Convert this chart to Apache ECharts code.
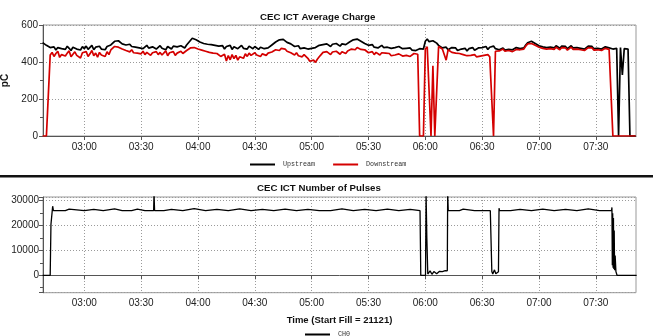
<!DOCTYPE html>
<html><head><meta charset="utf-8">
<script src="https://cdn.jsdelivr.net/npm/echarts@6/dist/echarts.min.js"></script>
<style>html,body{margin:0;padding:0;background:#fff}#c{width:653px;height:336px}</style>
</head><body><div id="c"></div>
<script>
// one sample per minute, first sample at 02:38 (minutes after midnight)
const sampleStartMin = 158;
const upstream = [
505, 497,
490, 484, 478, 470, 482, 465, 478, 488, 472, 480,
468, 485, 474, 462, 480, 490, 470, 476, 465, 483,
472, 486, 468, 478, 490, 466, 480, 474, 485, 470,
478, 466, 484, 475, 492, 500, 512, 522, 515, 506,
498, 505, 492, 488, 496, 484, 490, 480, 488, 476,
484, 472, 480, 490, 475, 468, 482, 486, 470, 478,
488, 474, 480, 466, 484, 478, 470, 486, 476, 482,
472, 488, 480, 476, 492, 500, 516, 528, 532, 520,
515, 508, 512, 500, 505, 496, 502, 494, 500, 490,
496, 486, 480, 488, 470, 484, 476, 490, 468, 482,
486, 472, 480, 490, 474, 482, 470, 486, 478, 472,
484, 476, 468, 480, 488, 472, 480, 476, 486, 492,
498, 508, 516, 520, 512, 522, 515, 506, 510, 498,
492, 484, 478, 488, 472, 482, 476, 486, 470, 480,
474, 466, 478, 484, 490, 482, 494, 486, 498, 490,
484, 496, 488, 500, 492, 486, 498, 490, 494, 502,
508, 514, 520, 510, 524, 516, 512, 506, 500, 496,
490, 484, 494, 480, 488, 476, 486, 490, 478, 484,
480, 486, 474, 482, 478, 470, 484, 476, 472, 480,
474, 468, 476, 464, 470, 462, 468, 472, 466, 470,
512, 524, 510, 506, 515, 508, 502, 490, 482, 476,
470, 480, 466, 474, 478, 468, 476, 462, 472, 470,
466, 474, 460, 472, 468, 478, 464, 470, 476, 466,
478, 470, 484, 468, 480, 474, 486, 472, 478, 466,
470, 476, 464, 472, 468, 474, 466, 470, 478, 468,
472, 466, 476, 492, 504, 508, 512, 506, 500, 494,
488, 494, 482, 490, 478, 486, 480, 484, 476, 488,
482, 474, 486, 478, 484, 472, 480, 488, 476, 482,
478, 486, 474, 482, 470, 480, 486, 476, 484, 472,
480, 474, 484, 470, 478, 482, 472, 476, 480, 470,
476, 474, 0, 478, 330, 472, 476, 470, 0, 0,
0, 0
];
const downstream = [
0, 0,
0, 0, 438, 452, 430, 446, 458, 425, 440, 450,
432, 448, 460, 428, 442, 455, 436, 446, 422, 450,
440, 456, 430, 444, 462, 434, 448, 426, 452, 438,
446, 430, 455, 440, 465, 474, 484, 492, 480, 476,
470, 478, 462, 468, 455, 466, 450, 460, 448, 456,
444, 458, 440, 452, 462, 436, 450, 444, 456, 440,
452, 438, 448, 460, 434, 450, 442, 456, 436, 448,
444, 458, 446, 452, 462, 468, 476, 482, 478, 472,
470, 476, 464, 468, 458, 464, 452, 460, 448, 456,
446, 440, 430, 420, 442, 405, 435, 412, 440, 418,
436, 410, 428, 438, 420, 444, 430, 448, 436, 442,
450, 438, 446, 430, 444, 452, 436, 448, 440, 454,
458, 466, 470, 462, 474, 466, 470, 458, 462, 450,
446, 438, 450, 434, 444, 428, 440, 430, 420, 404,
395, 410, 398, 415, 428, 440, 452, 444, 456, 448,
440, 454, 446, 458, 448, 442, 456, 450, 446, 460,
464, 470, 476, 466, 478, 470, 468, 460, 466, 456,
450, 444, 456, 440, 452, 446, 438, 450, 442, 448,
440, 446, 434, 442, 438, 430, 444, 436, 432, 442,
436, 444, 430, 440, 446, 438, 442, 0, 0, 0,
470, 482, 474, 0, 380, 0, 0, 484, 476, 470,
462, 410, 466, 458, 452, 460, 448, 454, 446, 450,
440, 446, 434, 442, 436, 430, 440, 428, 436, 432,
426, 436, 430, 440, 428, 434, 0, 458, 466, 460,
464, 470, 458, 466, 462, 470, 456, 464, 468, 460,
466, 460, 470, 486, 498, 504, 500, 496, 490, 484,
480, 486, 474, 482, 470, 478, 472, 476, 468, 480,
474, 466, 478, 470, 476, 464, 472, 480, 468, 474,
470, 478, 466, 474, 462, 472, 478, 468, 476, 464,
472, 466, 476, 462, 470, 474, 464, 468, 466, 0,
0, 0, 0, 0, 0, 0, 0, 0, 0, 0,
0, 0
];
// pulse counter samples: time (minutes after midnight) and value
const pulseMin = [158, 162, 162.4, 163, 163.3, 163.7, 170, 172, 172.3, 180, 185, 185.3, 190, 196, 196.3, 200, 205, 208, 208.3, 212, 216.6, 216.8, 217.1, 222, 226, 226.3, 232, 238, 238.3, 244, 250, 250.3, 256, 262, 262.3, 268, 274, 274.3, 280, 286, 286.3, 292, 298, 298.3, 304, 310, 316, 316.3, 322, 328, 328.3, 334, 340, 340.3, 346, 352, 352.3, 357.2, 357.6, 360.1, 360.4, 360.8, 361.3, 362.5, 363.5, 364.5, 366, 367.5, 369, 370.5, 371.6, 371.8, 372.1, 378, 380, 380.3, 386, 390, 394.3, 395.1, 395.6, 396.5, 397.2, 397.8, 398.6, 398.9, 399.2, 405, 410, 410.3, 416, 422, 422.3, 428, 434, 434.3, 440, 446, 446.3, 452, 458.3, 458.5, 458.7, 458.9, 459.1, 459.3, 459.5, 459.7, 459.9, 460.2, 460.6, 461.2, 471.5];
const pulseVal = [0, 0, 20500, 21000, 27800, 26000, 26000, 26600, 26000, 26000, 26500, 26000, 26000, 26700, 26000, 26000, 26000, 26600, 26000, 26000, 26000, 33000, 26000, 26000, 26500, 26000, 26000, 26800, 26000, 26000, 26500, 26000, 26000, 26700, 26000, 26000, 26500, 26000, 26000, 26600, 26000, 26000, 26500, 26000, 26000, 26000, 26700, 26000, 26000, 26500, 26000, 26000, 26600, 26000, 26000, 26500, 26000, 26000, 0, 0, 33000, 15000, 500, 1800, 400, 1500, 600, 1600, 1500, 1900, 1800, 33000, 26000, 26000, 26600, 26000, 26000, 26000, 26000, 1500, 500, 2200, 600, 1200, 1400, 27000, 26000, 26000, 26500, 26000, 26000, 26600, 26000, 26000, 26500, 26000, 26000, 26700, 26000, 26000, 26000, 27300, 4000, 25000, 3000, 23000, 2500, 18000, 2000, 8000, 1500, 0, 0];
// time axis ticks (minutes after midnight) and their labels
const timeTickMin = [180, 210, 240, 270, 300, 330, 360, 390, 420, 450];
const timeTickLabels = ['03:00', '03:30', '04:00', '04:30', '05:00', '05:30', '06:00', '06:30', '07:00', '07:30'];
const chargeTicks = [0, 200, 400, 600];
const pulseTicks = [0, 10000, 20000, 30000];
const timeMinMin = 158.2, timeMaxMin = 471.2;

const upData = upstream.map((v, i) => [sampleStartMin + i, v]);
const downData = downstream.map((v, i) => [sampleStartMin + i, v]);
const pulseData = pulseMin.map((t, i) => [t, pulseVal[i]]);
const timeFmt = function (v) {
  const k = timeTickMin.indexOf(Math.round(v));
  return k >= 0 ? timeTickLabels[k] : '';
};
const FONT = 'Liberation Sans';
const gridLine = { show: true, lineStyle: { color: '#9a9a9a', type: [1, 2], width: 1 } };
function xAx(idx, extra) {
  return Object.assign({
    type: 'value', gridIndex: idx,
    min: timeMinMin, max: timeMaxMin,
    axisLine: { lineStyle: { color: '#555', width: 1 } },
    axisTick: { show: true, length: 4, customValues: timeTickMin, lineStyle: { color: '#555' } },
    axisLabel: { formatter: timeFmt, customValues: timeTickMin, color: '#222', fontSize: 10, fontFamily: FONT, margin: 6, hideOverlap: false },
    splitLine: gridLine
  }, extra || {});
}
const legendText = { fontFamily: 'Liberation Mono', fontSize: 6.7, color: '#333', padding: [0, 0, 0, 3] };
const chart = echarts.init(document.getElementById('c'), null, { renderer: 'canvas' });
chart.setOption({
  animation: false,
  backgroundColor: '#fff',
  title: [
    { text: 'CEC ICT Average Charge', left: 260, top: 12, padding: 0, textStyle: { fontSize: 9.7, fontWeight: 'bold', color: '#111', fontFamily: FONT } },
    { text: 'CEC ICT Number of Pulses', left: 257, top: 183, padding: 0, textStyle: { fontSize: 9.7, fontWeight: 'bold', color: '#111', fontFamily: FONT } }
  ],
  legend: [
    { data: ['Upstream', 'Downstream'], left: 250, top: 161, padding: 0, icon: 'rect', itemWidth: 25, itemHeight: 2, itemGap: 18, textStyle: legendText },
    { data: ['CH0'], left: 305, top: 331, padding: 0, icon: 'rect', itemWidth: 25, itemHeight: 2, textStyle: legendText }
  ],
  grid: [
    { left: 43, right: 17, top: 25, height: 111, show: true, borderColor: '#999', borderWidth: 1, outerBoundsMode: 'none', containLabel: false },
    { left: 43, right: 17, top: 197, height: 95.7, show: true, borderColor: '#999', borderWidth: 1, outerBoundsMode: 'none', containLabel: false }
  ],
  xAxis: [
    xAx(0),
    xAx(1, { name: 'Time (Start Fill = 21121)', nameLocation: 'middle', nameGap: 23,
      nameTextStyle: { fontSize: 9.5, fontWeight: 'bold', color: '#111', fontFamily: FONT } })
  ],
  yAxis: [
    { type: 'value', gridIndex: 0, min: chargeTicks[0], max: chargeTicks[chargeTicks.length - 1], interval: 200,
      name: 'pC', nameLocation: 'middle', nameGap: 24,
      nameTextStyle: { fontSize: 10, fontWeight: 'bold', color: '#111', fontFamily: FONT },
      axisLine: { show: true, lineStyle: { color: '#555' } },
      axisTick: { show: true, length: 4, lineStyle: { color: '#555' } },
      minorTick: { show: true, splitNumber: 2, length: 3, lineStyle: { color: '#555' } },
      axisLabel: { color: '#222', fontSize: 10, fontFamily: FONT, margin: 5 },
      splitLine: gridLine },
    { type: 'value', gridIndex: 1, min: -7000, max: 31500, splitNumber: 4,
      axisLine: { show: true, lineStyle: { color: '#555' } },
      axisTick: { show: true, length: 4, lineStyle: { color: '#555' } },
      minorTick: { show: true, splitNumber: 2, length: 3, lineStyle: { color: '#555' } },
      axisLabel: { color: '#222', fontSize: 10, fontFamily: FONT, margin: 4,
        formatter: v => (pulseTicks.indexOf(v) >= 0 ? String(v) : '') },
      splitLine: gridLine }
  ],
  series: [
    { name: 'Upstream', type: 'line', xAxisIndex: 0, yAxisIndex: 0, data: upData, symbol: 'none',
      lineStyle: { color: '#000', width: 1.7 }, itemStyle: { color: '#000' } },
    { name: 'Downstream', type: 'line', xAxisIndex: 0, yAxisIndex: 0, data: downData, symbol: 'none',
      lineStyle: { color: '#d40000', width: 1.7 }, itemStyle: { color: '#d40000' } },
    { name: 'CH0', type: 'line', xAxisIndex: 1, yAxisIndex: 1, data: pulseData, symbol: 'none',
      lineStyle: { color: '#000', width: 1.3 }, itemStyle: { color: '#000' } }
  ],
  graphic: [
    { type: 'rect', shape: { x: 0, y: 175, width: 653, height: 2.5 }, style: { fill: '#111' } }
  ]
});
</script></body></html>
